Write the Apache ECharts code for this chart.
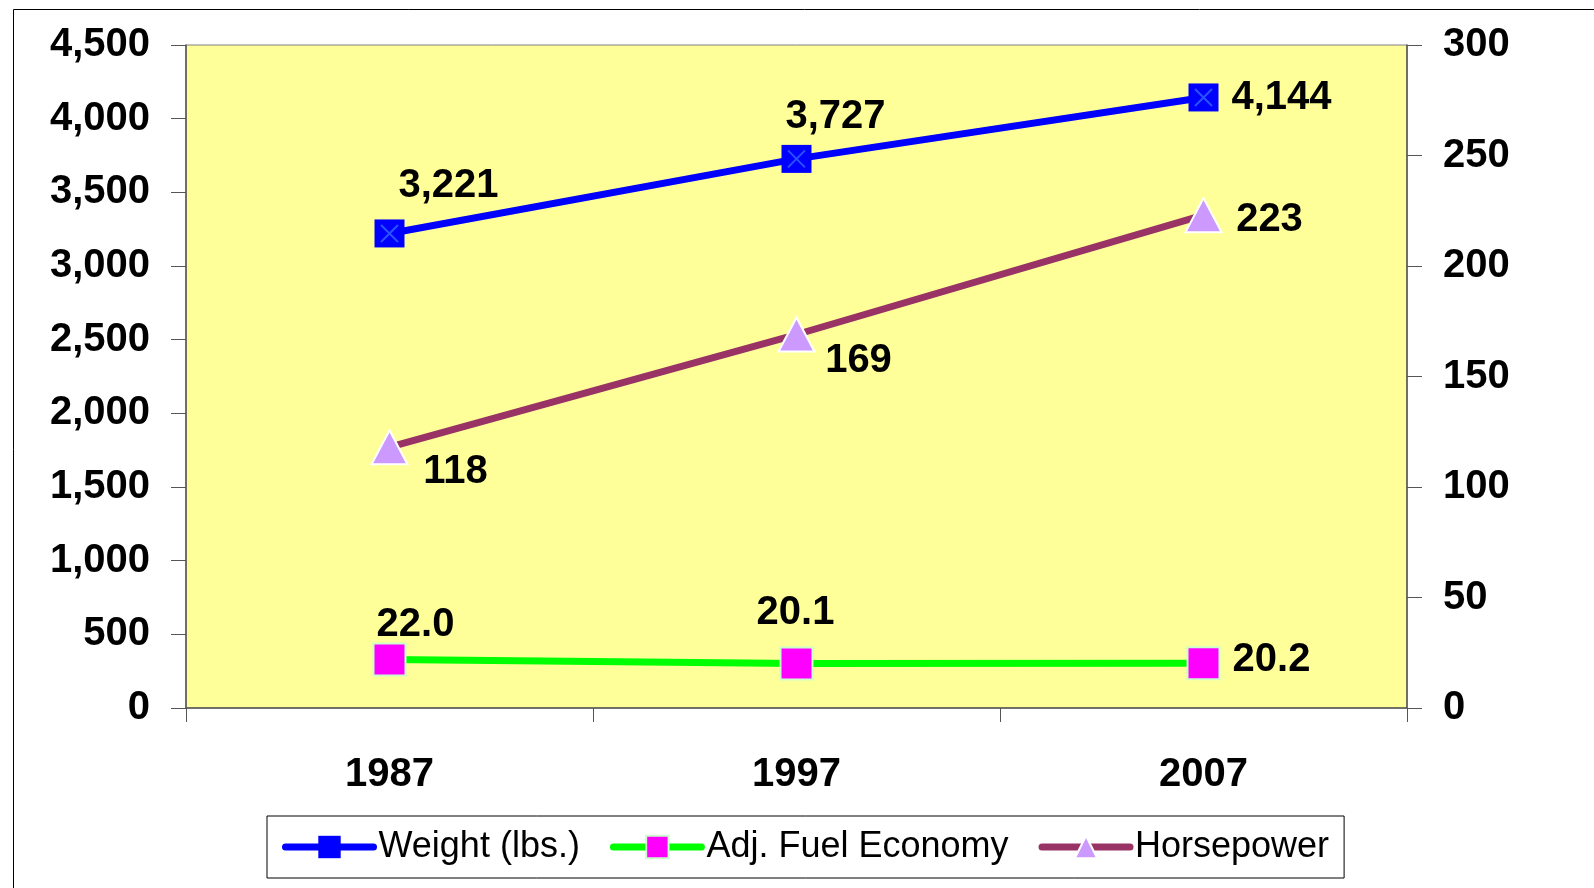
<!DOCTYPE html>
<html>
<head>
<meta charset="utf-8">
<script src="https://cdn.jsdelivr.net/npm/echarts@6/dist/echarts.min.js"></script>
<style>
	html, body { margin: 0; padding: 0; background: #fff; }
	#main { width: 1594px; height: 888px; }
</style>
</head>
<body>
<div id="main"></div>
<script>
var years = ['1987', '1997', '2007'];
var weight = [3221, 3727, 4144];
var fuel = [22.0, 20.1, 20.2];
var horsepower = [118, 169, 223];
var seriesNames = ['Weight (lbs.)', 'Adj. Fuel Economy', 'Horsepower'];

// label offsets (px from the point centre), picked by eye
var weightOffsets = [[59, -47], [39, -42], [78, 1]];
var fuelOffsets = [[26, -34], [-1, -51], [68, -3]];
var hpOffsets = [[66, 25], [62, 26], [66, 5]];

var FONT = '"Liberation Sans", Arial, sans-serif';

function thousands(v) {
	return String(v).replace(/\B(?=(\d{3})+(?!\d))/g, ',');
}

function withLabels(values, offsets, fmt) {
	return values.map(function(v, i) {
		return {
			value : v,
			label : {
				show : true,
				position : 'inside',
				offset : offsets[i],
				formatter : fmt(v)
			}
		};
	});
}

var chart = echarts.init(document.getElementById('main'));

var labelStyle = {
	color : '#000',
	fontFamily : FONT,
	fontWeight : 'bold',
	fontSize : 40
};

var option = {
	animation : false,
	graphic : [ {
		type : 'rect',
		left : 11,
		top : 7,
		shape : { width : 1600, height : 900 },
		style : { fill : 'none', stroke : '#000', lineWidth : 1 },
		silent : true
	} ],
	grid : {
		left : 186,
		top : 45,
		right : 187,
		bottom : 180,
		show : true,
		backgroundColor : '#FFFF99',
		borderColor : '#808080',
		borderWidth : 1
	},
	legend : {
		data : seriesNames,
		left : 267,
		top : 816,
		orient : 'horizontal',
		itemWidth : 88,
		itemHeight : 28,
		itemGap : 30,
		padding : [ 13, 15 ],
		borderColor : '#000',
		borderWidth : 1,
		lineStyle : { width : 7, cap : 'round' },
		textStyle : {
			color : '#000',
			fontFamily : FONT,
			fontSize : 36
		}
	},
	xAxis : {
		type : 'category',
		data : years,
		boundaryGap : true,
		axisLine : { lineStyle : { color : '#555', width : 1.5 } },
		axisTick : { show : true, length : 14, lineStyle : { color : '#555' } },
		axisLabel : {
			margin : 47,
			color : '#000',
			fontFamily : FONT,
			fontWeight : 'bold',
			fontSize : 40
		},
		splitLine : { show : false }
	},
	yAxis : [ {
		type : 'value',
		min : 0,
		max : 4500,
		interval : 500,
		position : 'left',
		axisLine : { show : true, lineStyle : { color : '#555', width : 1.5 } },
		axisTick : { show : true, length : 15, lineStyle : { color : '#555' } },
		axisLabel : {
			margin : 36,
			padding : [ 10, 0, 0, 0 ],
			color : '#000',
			fontFamily : FONT,
			fontWeight : 'bold',
			fontSize : 40,
			formatter : function(v) { return thousands(v); }
		},
		splitLine : { show : false }
	}, {
		type : 'value',
		min : 0,
		max : 300,
		interval : 50,
		position : 'right',
		axisLine : { show : true, lineStyle : { color : '#555', width : 1.5 } },
		axisTick : { show : true, length : 15, lineStyle : { color : '#555' } },
		axisLabel : {
			margin : 36,
			padding : [ 10, 0, 0, 0 ],
			color : '#000',
			fontFamily : FONT,
			fontWeight : 'bold',
			fontSize : 40
		},
		splitLine : { show : false }
	} ],
	series : [ {
		name : seriesNames[0],
		type : 'line',
		yAxisIndex : 0,
		data : withLabels(weight, weightOffsets, function(v) { return thousands(v); }),
		symbol : 'rect',
		symbolSize : [ 30, 28 ],
		lineStyle : { color : '#0000FF', width : 7 },
		itemStyle : { color : '#0000FF', borderColor : '#0000FF', borderWidth : 0 },
		label : labelStyle,
		z : 3
	}, {
		name : seriesNames[1],
		type : 'line',
		yAxisIndex : 1,
		data : withLabels(fuel, fuelOffsets, function(v) { return v.toFixed(1); }),
		symbol : 'rect',
		symbolSize : 32,
		lineStyle : { color : '#00FF00', width : 7 },
		itemStyle : { color : '#FF00FF', borderColor : '#CCFFCC', borderWidth : 2 },
		label : labelStyle,
		z : 3
	}, {
		name : seriesNames[2],
		type : 'line',
		yAxisIndex : 1,
		data : withLabels(horsepower, hpOffsets, function(v) { return String(v); }),
		symbol : 'triangle',
		symbolSize : [ 36, 34 ],
		lineStyle : { color : '#993366', width : 7 },
		itemStyle : { color : '#CC99FF', borderColor : '#FFFFFF', borderWidth : 2 },
		label : labelStyle,
		z : 3
	}, {
		// the light "x" drawn inside the weight markers
		name : 'weight-x',
		type : 'scatter',
		yAxisIndex : 0,
		data : weight,
		symbol : 'path://M0,0L10,10M10,0L0,10',
		symbolSize : 17,
		itemStyle : { color : 'none', borderColor : '#3366FF', borderWidth : 2 },
		silent : true,
		z : 5
	} ]
};

chart.setOption(option);
</script>
</body>
</html>
